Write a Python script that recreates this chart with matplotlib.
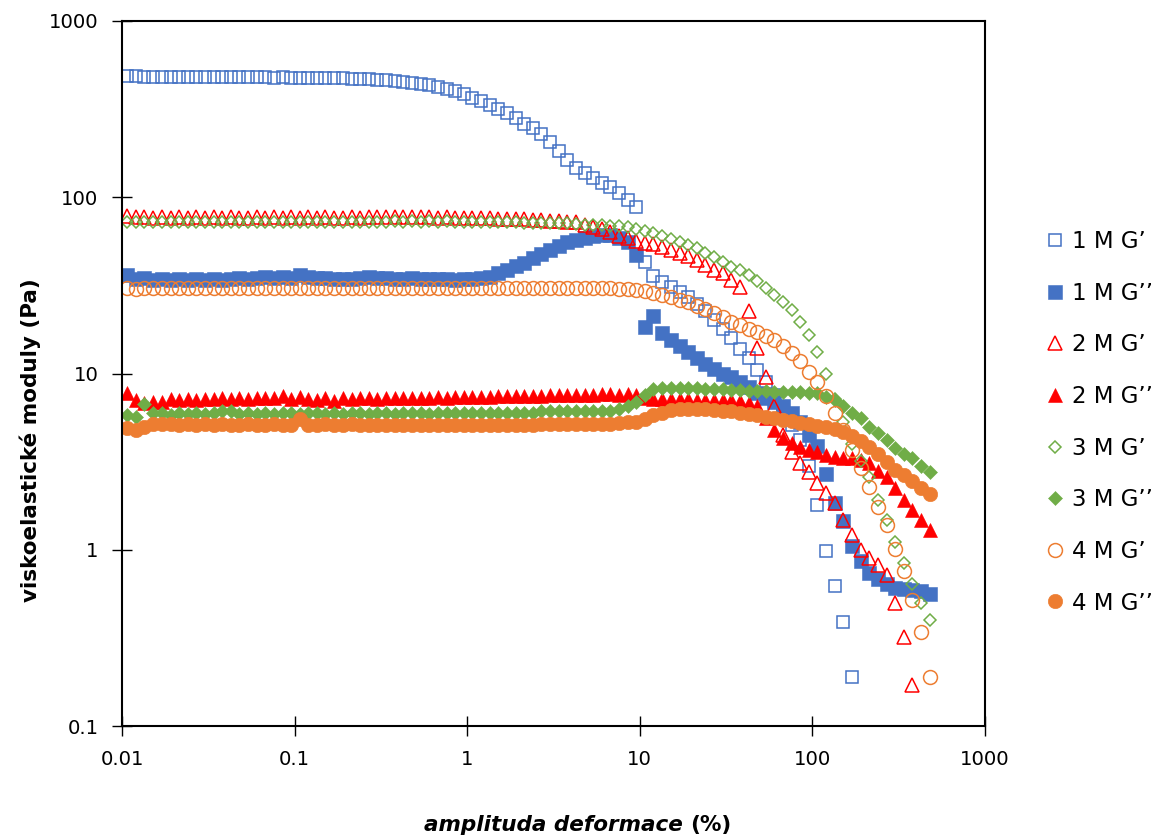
import matplotlib
matplotlib.use("Agg")
import matplotlib.pyplot as plt

plt.rcParams["font.family"] = ["DejaVu Sans"]

nan = float("nan")

# strain amplitude (%)
strain = [
    0.0107, 0.0120, 0.0135, 0.0151, 0.0170, 0.0191, 0.0214, 0.0240, 0.0269, 0.0302,
    0.0339, 0.0380, 0.0427, 0.0479, 0.0537, 0.0603, 0.0676, 0.0759, 0.0851, 0.0955,
    0.107, 0.120, 0.135, 0.151, 0.170, 0.191, 0.214, 0.240, 0.269, 0.302,
    0.339, 0.380, 0.427, 0.479, 0.537, 0.603, 0.676, 0.759, 0.851, 0.955,
    1.07, 1.20, 1.35, 1.51, 1.70, 1.91, 2.14, 2.40, 2.69, 3.02,
    3.39, 3.80, 4.27, 4.79, 5.37, 6.03, 6.76, 7.59, 8.51, 9.55,
    10.7, 12.0, 13.5, 15.1, 17.0, 19.1, 21.4, 24.0, 26.9, 30.2,
    33.9, 38.0, 42.7, 47.9, 53.7, 60.3, 67.6, 75.9, 85.1, 95.5,
    107, 120, 135, 151, 170, 191, 214, 240, 269, 302,
    339, 380, 427, 479,
]

# moduli (Pa)
g1_storage = [
    490, 486, 484, 483, 484, 483, 482, 482, 481, 482,
    481, 480, 481, 480, 479, 480, 479, 478, 479, 478,
    477, 476, 475, 474, 473, 472, 470, 468, 466, 465,
    462, 458, 452, 447, 440, 432, 424, 412, 400, 386,
    368, 350, 332, 316, 300, 280, 262, 246, 228, 205,
    182, 163, 147, 137, 128, 120, 114, 106, 97, 88,
    43, 35.8, 33, 31, 29, 27, 24.8, 22.6, 20.0, 17.9,
    15.8, 13.8, 12.2, 10.4, 9.0, 7.6, 6.2, 5.1, 4.2, 3.0,
    1.8, 0.98, 0.62, 0.39, 0.19, nan, nan, nan, nan, nan,
    nan, nan, nan, nan,
]
g1_loss = [
    36, 34.5, 35, 34, 34.5, 34, 34.5, 34, 34.5, 34,
    34.5, 34, 34.5, 35, 34.5, 35, 35.5, 35, 35.5, 35,
    36, 35.5, 35, 35, 34.5, 34.5, 34.5, 35, 35.5, 35,
    35, 34.5, 34.5, 35, 34.5, 34.5, 34.5, 34.5, 34, 34.5,
    34.5, 35, 35.5, 37, 38.6, 40.5, 42.5, 45, 47.5, 50,
    53, 55.5, 57.5, 59, 60, 61, 61, 59, 56, 47,
    18.3, 21.3, 16.9, 15.4, 14.3, 13.2, 12.2, 11.3, 10.6, 10.0,
    9.5, 9.0, 8.4, 7.8, 7.3, 6.9, 6.5, 6.0, 5.3, 4.5,
    3.9, 2.7, 1.85, 1.45, 1.05, 0.86, 0.74, 0.68, 0.64, 0.61,
    0.60, 0.59, 0.58, 0.56,
]
g2_storage = [
    78, 77, 77, 76.5, 77, 76.5, 77, 76.5, 77, 76.5,
    77, 76.5, 77, 76.5, 76.5, 77, 76.5, 77, 76.5, 77,
    76.5, 77, 76.5, 77, 76.5, 76.5, 77, 76.5, 77, 77.5,
    77, 77.5, 77, 77.5, 77, 77, 76.5, 77, 76.5, 76.5,
    76.5, 76, 76, 75.5, 75.5, 75, 75, 74.5, 74, 73.5,
    73, 72.5, 72, 70, 68, 66, 63.4, 60.5, 58.5, 56.5,
    55, 54, 52, 50, 48, 46.5, 44, 41.5, 38.5, 37,
    34, 30.9, 22.5, 14.0, 9.5, 6.5, 4.5, 3.6, 3.1, 2.75,
    2.4, 2.1, 1.84, 1.47, 1.21, 1.0, 0.90, 0.82, 0.72, 0.50,
    0.32, 0.17, nan, nan,
]
g2_loss = [
    7.8, 7.1, 6.8, 6.9, 6.9, 7.2, 7.1, 7.2, 7.1, 7.2,
    7.2, 7.3, 7.2, 7.3, 7.2, 7.3, 7.3, 7.3, 7.5, 7.2,
    7.4, 7.2, 7.1, 7.3, 7.0, 7.3, 7.2, 7.3, 7.3, 7.2,
    7.3, 7.3, 7.3, 7.3, 7.3, 7.3, 7.4, 7.3, 7.4, 7.4,
    7.4, 7.4, 7.4, 7.5, 7.5, 7.5, 7.5, 7.5, 7.5, 7.6,
    7.6, 7.6, 7.6, 7.6, 7.6, 7.7, 7.7, 7.6, 7.7, 7.6,
    7.3, 7.2, 7.2, 7.2, 7.2, 7.2, 7.1, 7.1, 7.1, 7.1,
    7.1, 7.0, 6.8, 6.5, 5.6, 4.8, 4.3, 4.05, 3.85, 3.7,
    3.6, 3.45, 3.35, 3.3, 3.3, 3.25, 3.1, 2.8, 2.6, 2.25,
    1.91, 1.68, 1.47, 1.29,
]
g3_storage = [
    72, 72, 72.5, 72, 72, 72.5, 72, 72, 72.5, 72,
    72, 72.5, 72, 72, 72.5, 72, 72, 72.5, 72, 72,
    72.5, 72, 72, 72.5, 72, 72.5, 72, 72.5, 72.5, 72,
    72.5, 73, 72.5, 73, 72.5, 73, 72.5, 73, 72.5, 72.5,
    72.5, 72.5, 72, 72, 72, 72, 71.5, 71.5, 71.5, 71.5,
    71, 71, 70.5, 70, 70, 69.5, 69, 68.5, 67.5, 66,
    64, 62.5, 60.5, 58, 56, 53.5, 51.5, 48.5, 46, 43,
    40, 38.6, 36, 33.5, 30.5, 28, 25.5, 22.9, 19.5, 16.5,
    13.2, 10.0, 7.2, 5.3, 4.0, 3.2, 2.6, 1.91, 1.47, 1.10,
    0.84, 0.64, 0.50, 0.40,
]
g3_loss = [
    5.8, 5.7, 6.7, 6.0, 6.0, 5.8, 6.0, 5.9, 6.0, 5.9,
    6.0, 6.1, 6.1, 5.9, 6.0, 5.9, 6.0, 5.9, 6.0, 6.0,
    5.9, 6.0, 6.0, 5.9, 6.0, 5.9, 6.0, 6.0, 5.9, 6.0,
    6.0, 5.9, 6.0, 6.0, 6.0, 5.9, 6.0, 6.0, 6.0, 6.0,
    6.0, 6.0, 6.0, 6.0, 6.0, 6.0, 6.0, 6.0, 6.1, 6.1,
    6.1, 6.1, 6.1, 6.1, 6.1, 6.1, 6.1, 6.25, 6.5, 6.9,
    7.6, 8.2, 8.3, 8.3, 8.3, 8.3, 8.3, 8.2, 8.2, 8.2,
    8.1, 8.1, 8.0, 8.0, 8.0, 7.9, 7.9, 7.9, 7.9, 7.8,
    7.8, 7.4, 7.1, 6.5, 6.0, 5.6, 5.0, 4.6, 4.2, 3.8,
    3.5, 3.3, 3.0, 2.75,
]
g4_storage = [
    30.5, 30.0, 30.5, 30.6, 30.4, 30.5, 30.6, 30.5, 30.4, 30.6,
    30.5, 30.6, 30.4, 30.5, 30.6, 30.5, 30.5, 30.6, 30.4, 30.5,
    30.6, 30.5, 30.4, 30.6, 30.5, 30.5, 30.6, 30.4, 30.5, 30.6,
    30.5, 30.5, 30.6, 30.5, 30.4, 30.6, 30.5, 30.5, 30.6, 30.5,
    30.5, 30.6, 30.5, 30.5, 30.6, 30.5, 30.5, 30.6, 30.5, 30.5,
    30.6, 30.5, 30.5, 30.6, 30.5, 30.5, 30.4, 30.2, 30.0, 29.6,
    29.2, 28.6, 27.8, 27.0, 26.1, 25.3, 24.3, 23.2, 22.1, 20.9,
    19.7, 18.8, 18.0, 17.2, 16.4, 15.4, 14.3, 13.0, 11.7, 10.2,
    8.9, 7.5, 6.0, 4.8, 3.7, 2.9, 2.26, 1.75, 1.38, 1.01,
    0.76, 0.52, 0.34, 0.19,
]
g4_loss = [
    4.9, 4.8, 5.0, 5.2, 5.2, 5.2, 5.1, 5.2, 5.1, 5.2,
    5.1, 5.2, 5.1, 5.1, 5.2, 5.1, 5.1, 5.2, 5.1, 5.1,
    5.5, 5.1, 5.1, 5.2, 5.1, 5.1, 5.2, 5.1, 5.1, 5.1,
    5.1, 5.1, 5.1, 5.1, 5.1, 5.1, 5.1, 5.1, 5.1, 5.1,
    5.1, 5.1, 5.1, 5.1, 5.1, 5.1, 5.1, 5.1, 5.15, 5.15,
    5.2, 5.2, 5.2, 5.2, 5.2, 5.2, 5.2, 5.25, 5.3, 5.3,
    5.5, 5.8, 6.0, 6.2, 6.3, 6.3, 6.3, 6.25, 6.2, 6.15,
    6.1, 6.0, 5.9, 5.8, 5.7, 5.6, 5.45, 5.35, 5.25, 5.15,
    5.05, 4.95, 4.85, 4.65, 4.4, 4.15, 3.85, 3.5, 3.15, 2.85,
    2.65, 2.45, 2.25, 2.07,
]

labels = ["1 M G’", "1 M G’’", "2 M G’", "2 M G’’",
          "3 M G’", "3 M G’’", "4 M G’", "4 M G’’"]
x_ticks = [0.01, 0.1, 1, 10, 100, 1000]
x_tick_labels = ["0.01", "0.1", "1", "10", "100", "1000"]
y_ticks = [0.1, 1, 10, 100, 1000]
y_tick_labels = ["0.1", "1", "10", "100", "1000"]

BLUE, RED, GREEN, ORANGE = "#4472C4", "#FF0000", "#70AD47", "#ED7D31"

# (values, marker, colour, filled, marker size)
styles = [
    (g1_storage, "s", BLUE, False, 9.3),
    (g1_loss, "s", BLUE, True, 9.8),
    (g2_storage, "^", RED, False, 9.5),
    (g2_loss, "^", RED, True, 9.8),
    (g3_storage, "D", GREEN, False, 6.6),
    (g3_loss, "D", GREEN, True, 7.4),
    (g4_storage, "o", ORANGE, False, 10.0),
    (g4_loss, "o", ORANGE, True, 10.4),
]

W, H = 1162, 840
fig = plt.figure(figsize=(W / 100, H / 100), dpi=100)
ax = fig.add_axes([122 / W, 1 - 726 / H, (985 - 122) / W, (726 - 21) / H])

for (vals, marker, color, filled, ms), label in zip(styles, labels):
    ax.plot(strain, vals, linestyle="none", marker=marker, markersize=ms,
            markerfacecolor=color if filled else "none",
            markeredgecolor=color, markeredgewidth=0.4 if filled else 1.1,
            label=label)

ax.set_xscale("log")
ax.set_yscale("log")
ax.set_xlim(0.01, 1000)
ax.set_ylim(0.1, 1000)
ax.set_xticks(x_ticks)
ax.set_xticklabels(x_tick_labels)
ax.set_yticks(y_ticks)
ax.set_yticklabels(y_tick_labels)
ax.minorticks_off()
ax.tick_params(which="major", direction="inout", length=14, width=1.0,
               color="black", labelsize=14.2, pad=10)
for sp in ax.spines.values():
    sp.set_linewidth(1.5)
    sp.set_color("black")

fig.text(30 / W, 1 - 440 / H, "viskoelastické moduly (Pa)", rotation=90,
         ha="center", va="center", fontsize=15.5, fontweight="bold")

xl1 = fig.text(424 / W, 1 - 831 / H, "amplituda deformace", ha="left",
               va="baseline", fontsize=15.5, fontweight="bold", style="italic")
fig.canvas.draw()
bb = xl1.get_window_extent()
fig.text((bb.x1 + 7) / W, 1 - 831 / H, "(%)", ha="left", va="baseline",
         fontsize=15.5, fontweight="bold")

ax.legend(loc="upper left", bbox_to_anchor=(1046 / W, 1 - 230 / H),
          bbox_transform=fig.transFigure, frameon=False, fontsize=16.5,
          handlelength=0.8, handletextpad=0.35, labelspacing=1.25,
          borderpad=0, borderaxespad=0, numpoints=1)

fig.savefig("out.png", dpi=100)
